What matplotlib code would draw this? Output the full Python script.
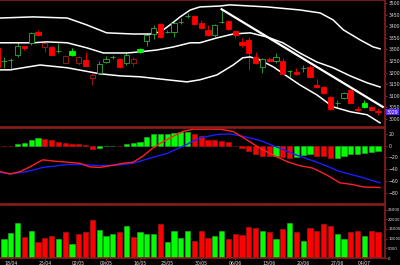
import numpy as np
import matplotlib
matplotlib.use("Agg")
import matplotlib.pyplot as plt

# daily candles, index -1 is the clipped bar at the left edge
opens = [3307, 3249, 3253, 3277, 3313, 3329, 3376, 3311, 3311, 3292, 3242,
         3294, 3242, 3255, 3177, 3199, 3246, 3266, 3259, 3242, 3242, 3303,
         3337, 3367, 3411, 3374, 3376, 3417, 3443, 3445, 3415, 3385, 3363,
         3417, 3424, 3380, 3333, 3342, 3268, 3225, 3257, 3251, 3251, 3205,
         3203, 3218, 3225, 3147, 3138, 3095, 3067, 3091, 3125, 3041, 3069,
         3050, 3033]
closes = [3225, 3251, 3255, 3316, 3307, 3372, 3363, 3329, 3277, 3294, 3272,
          3277, 3268, 3229, 3190, 3238, 3259, 3268, 3225, 3277, 3259, 3290,
          3363, 3393, 3354, 3376, 3415, 3419, 3445, 3411, 3393, 3363, 3406,
          3419, 3389, 3363, 3320, 3285, 3242, 3259, 3251, 3268, 3195, 3208,
          3195, 3221, 3182, 3138, 3113, 3043, 3069, 3113, 3069, 3037, 3052,
          3039, 3029]
highs = [3316, 3268, 3264, 3333, 3316, 3374, 3385, 3333, 3316, 3329, 3277,
         3307, 3270, 3290, 3199, 3251, 3272, 3277, 3262, 3290, 3268, 3307,
         3372, 3406, 3413, 3385, 3419, 3437, 3458, 3450, 3428, 3406, 3411,
         3474, 3426, 3385, 3350, 3354, 3290, 3264, 3268, 3285, 3264, 3212,
         3221, 3231, 3231, 3173, 3143, 3097, 3082, 3115, 3130, 3056, 3082,
         3056, 3048]
lows = [3221, 3221, 3212, 3268, 3298, 3320, 3359, 3290, 3275, 3285, 3240,
        3272, 3233, 3229, 3147, 3195, 3242, 3259, 3221, 3233, 3229, 3287,
        3316, 3346, 3350, 3370, 3354, 3411, 3437, 3408, 3389, 3359, 3354,
        3415, 3385, 3350, 3311, 3212, 3238, 3199, 3246, 3242, 3195, 3182,
        3190, 3203, 3180, 3134, 3108, 3039, 3052, 3087, 3067, 3035, 3048,
        3033, 3018]

volume = [10000, 13000, 17900, 10700, 14000, 8400, 10500, 11200, 9600, 13700,
          7400, 12300, 13700, 19500, 14700, 11600, 12300, 13700, 16500, 10700,
          13700, 12300, 12600, 17400, 8400, 14000, 10400, 14000, 8900, 14200,
          10400, 11600, 13900, 9800, 12300, 11900, 16100, 15500, 14000, 13200,
          10000, 14800, 18000, 13500, 9000, 15700, 13800, 17800, 16500, 12500,
          9600, 13500, 14200, 11500, 13900, 13200]

# bollinger bands: (bar index, price)
upper_x = [-0.6, 4.3, 9.3, 12.2, 15.1, 19, 21.5, 23, 24.4, 25.9, 27.4, 28.8,
           31.8, 33.2, 36.2, 38.7, 43.5, 46.5, 48.4, 49.9, 52.4, 54.3, 55.3]
upper_y = [3436, 3441, 3436, 3406, 3372, 3367, 3367, 3376, 3406, 3441, 3471,
           3484, 3488, 3493, 3488, 3484, 3471, 3458, 3428, 3385, 3341, 3311,
           3303]
mid_x = [-0.6, 4.3, 6.3, 9.3, 12.2, 14.6, 18.1, 20, 22.5, 24.9, 27.4, 28.8,
         31.3, 33.7, 36.2, 38.7, 41, 43.5, 46, 48.4, 50.9, 53.4, 55.3]
mid_y = [3329, 3329, 3333, 3329, 3307, 3285, 3285, 3290, 3298, 3311, 3329,
         3329, 3350, 3367, 3372, 3354, 3329, 3285, 3246, 3221, 3186, 3156,
         3138]
lower_x = [-0.6, 0.9, 5.3, 9.3, 14.1, 17.1, 20, 24, 26.9, 28.8, 31.3, 33.7,
           35.1, 36.2, 37.6, 39.6, 43.5, 46, 48.4, 50.9, 53.4, 55.3]
lower_y = [3212, 3212, 3233, 3221, 3195, 3186, 3182, 3169, 3160, 3169, 3190,
           3233, 3264, 3268, 3255, 3225, 3147, 3104, 3052, 3031, 3018, 2983]

# falling trend line
trend_x = [32, 55.7]
trend_y = [3474, 3052]

# MACD panel
hist = [-0.5, -1, 3, 5, 10, 13, 12, 9, 7, 5, 3.5, 2, 1, -5, -4, -1, -0.5, -1,
        3, 5, 7, 14, 19, 19.5, 20, 22, 22.5, 24, 20, 16, 10, 9, 8.5, 6, 0, -4,
        -9, -14, -17, -18, -17, -20, -20.5, -20, -15, -14.5, -17, -17.5,
        -21.5, -21, -17, -14, -13.5, -13, -10, -9.5]
dif_x = [-0.6, 0.9, 2.4, 3.8, 5.7, 7.2, 9.3, 11.2, 12.6, 14.1, 15.6, 17.5,
         19, 20.4, 21.9, 23.4, 24.9, 26.3, 27.8, 28.8, 31.8, 33.7, 35.7, 37.6,
         39.6, 41.6, 43.5, 45.4, 47.5, 49.4, 51.3, 52.8, 55.3]
dif_y = [-44, -48, -44, -36, -24, -26, -28, -30, -36, -37, -34, -30, -28, -18,
         -4, 7, 16, 24, 28, 28, 28, 24, 10, -4, -16, -27, -34, -38, -50, -63,
         -66, -70, -71]
dea_x = [-0.6, 0.9, 3.4, 5.7, 9.3, 11.6, 14.1, 16.6, 19, 21.5, 24, 26.3, 28.8,
         31.3, 33.2, 35.1, 37.6, 39.6, 43.5, 46.5, 49.4, 52.4, 55.3]
dea_y = [-45, -48, -44, -37, -32, -32, -34, -33, -30, -21, -13, -1, 13, 19, 20,
         16, 9, 0, -18, -30, -44, -53, -63]

tick_pos = [1, 6, 11, 15, 20, 24, 29, 34, 39, 44, 49, 53]
tick_labels = ["18/04", "25/04", "02/05", "09/05", "16/05", "23/05", "30/05",
               "06/06", "13/06", "20/06", "27/06", "04/07"]

GREEN = "#00ff00"
GREEN_DK = "#30b030"
RED = "#ff0000"
RED_DK = "#b01818"
FRAME = "#8c1c1c"

x = np.arange(-1, len(closes) - 1)
o = np.array(opens)
c = np.array(closes)
prev = np.r_[c[0] + 1, c[:-1]]
up_day = c >= prev

fig = plt.figure(figsize=(4, 2.65), dpi=100, facecolor="black")
ax1 = fig.add_axes([0, 0.5208, 0.9625, 0.4792])
ax2 = fig.add_axes([0, 0.2302, 0.9625, 0.2868])
ax3 = fig.add_axes([0, 0.0264, 0.9625, 0.2])

for ax in (ax1, ax2, ax3):
    ax.set_facecolor("black")
    ax.set_xlim(-0.59, 56.03)
    for s in ax.spines.values():
        s.set_color(FRAME)
        s.set_linewidth(1.2)
    ax.spines["left"].set_visible(False)
    ax.yaxis.tick_right()
    ax.tick_params(axis="y", colors=FRAME, labelcolor="#e0e0e0",
                   labelsize=3.3, length=1.5, pad=1)
    ax.tick_params(axis="x", colors=FRAME, labelcolor="#e0e0e0",
                   labelsize=3.3, length=1.5, pad=0.5)
    ax.set_xticks(tick_pos)
    ax.set_xticklabels([])
ax3.set_xticklabels(tick_labels)
ax3.tick_params(axis="y", labelsize=2.8, pad=0.8)

# candles
w = 0.78
for xi, oi, ci, hi, li, up in zip(x, o, c, highs, lows, up_day):
    col = GREEN if up else RED
    filled = ci < oi
    edge = col if filled else (GREEN_DK if up else RED_DK)
    ax1.vlines(xi, li, hi, color=edge, lw=0.6, zorder=2)
    bottom = min(oi, ci)
    height = max(abs(ci - oi), 1.2)
    ax1.bar(xi, height, w, bottom=bottom,
            color=col if filled else "black", edgecolor=edge, lw=0.6, zorder=3)

ax1.plot(upper_x, upper_y, color="white", lw=1.1)
ax1.plot(mid_x, mid_y, color="white", lw=1.1)
ax1.plot(lower_x, lower_y, color="white", lw=1.1)
ax1.plot(trend_x, trend_y, color="white", lw=1.6)
ax1.set_ylim(2965, 3514)
ax1.set_yticks(np.arange(3000, 3501, 50))
ax1.text(1.005, (c[-1] - 2965) / (3514 - 2965), "%d" % c[-1],
         transform=ax1.transAxes, fontsize=3.3, color="white", va="center",
         ha="left", bbox=dict(boxstyle="square,pad=0.15", fc="#5a28ff",
                              ec="none"))

# MACD
h = np.array(hist)
h_up = h > np.r_[h[0] + 1, h[:-1]]
ax2.bar(x[1:], h, 0.78, color=[GREEN if u else RED for u in h_up],
        edgecolor=[GREEN_DK if u else RED_DK for u in h_up], lw=0.4)
ax2.plot(dea_x, dea_y, color="#1c1cff", lw=1)
ax2.plot(dif_x, dif_y, color="#ff2020", lw=1)
ax2.set_ylim(-99, 30)
ax2.set_yticks([20, 0, -20, -40, -60, -80])

# volume
v_up = up_day[1:]
ax3.bar(x[1:], volume, 0.78, color=[GREEN if u else RED for u in v_up],
        edgecolor=[GREEN_DK if u else RED_DK for u in v_up], lw=0.4)
ax3.set_ylim(0, 27400)
ax3.set_yticks([0, 5000, 10000, 15000, 20000, 25000])

fig.savefig("out.png", dpi=100, facecolor="black")
